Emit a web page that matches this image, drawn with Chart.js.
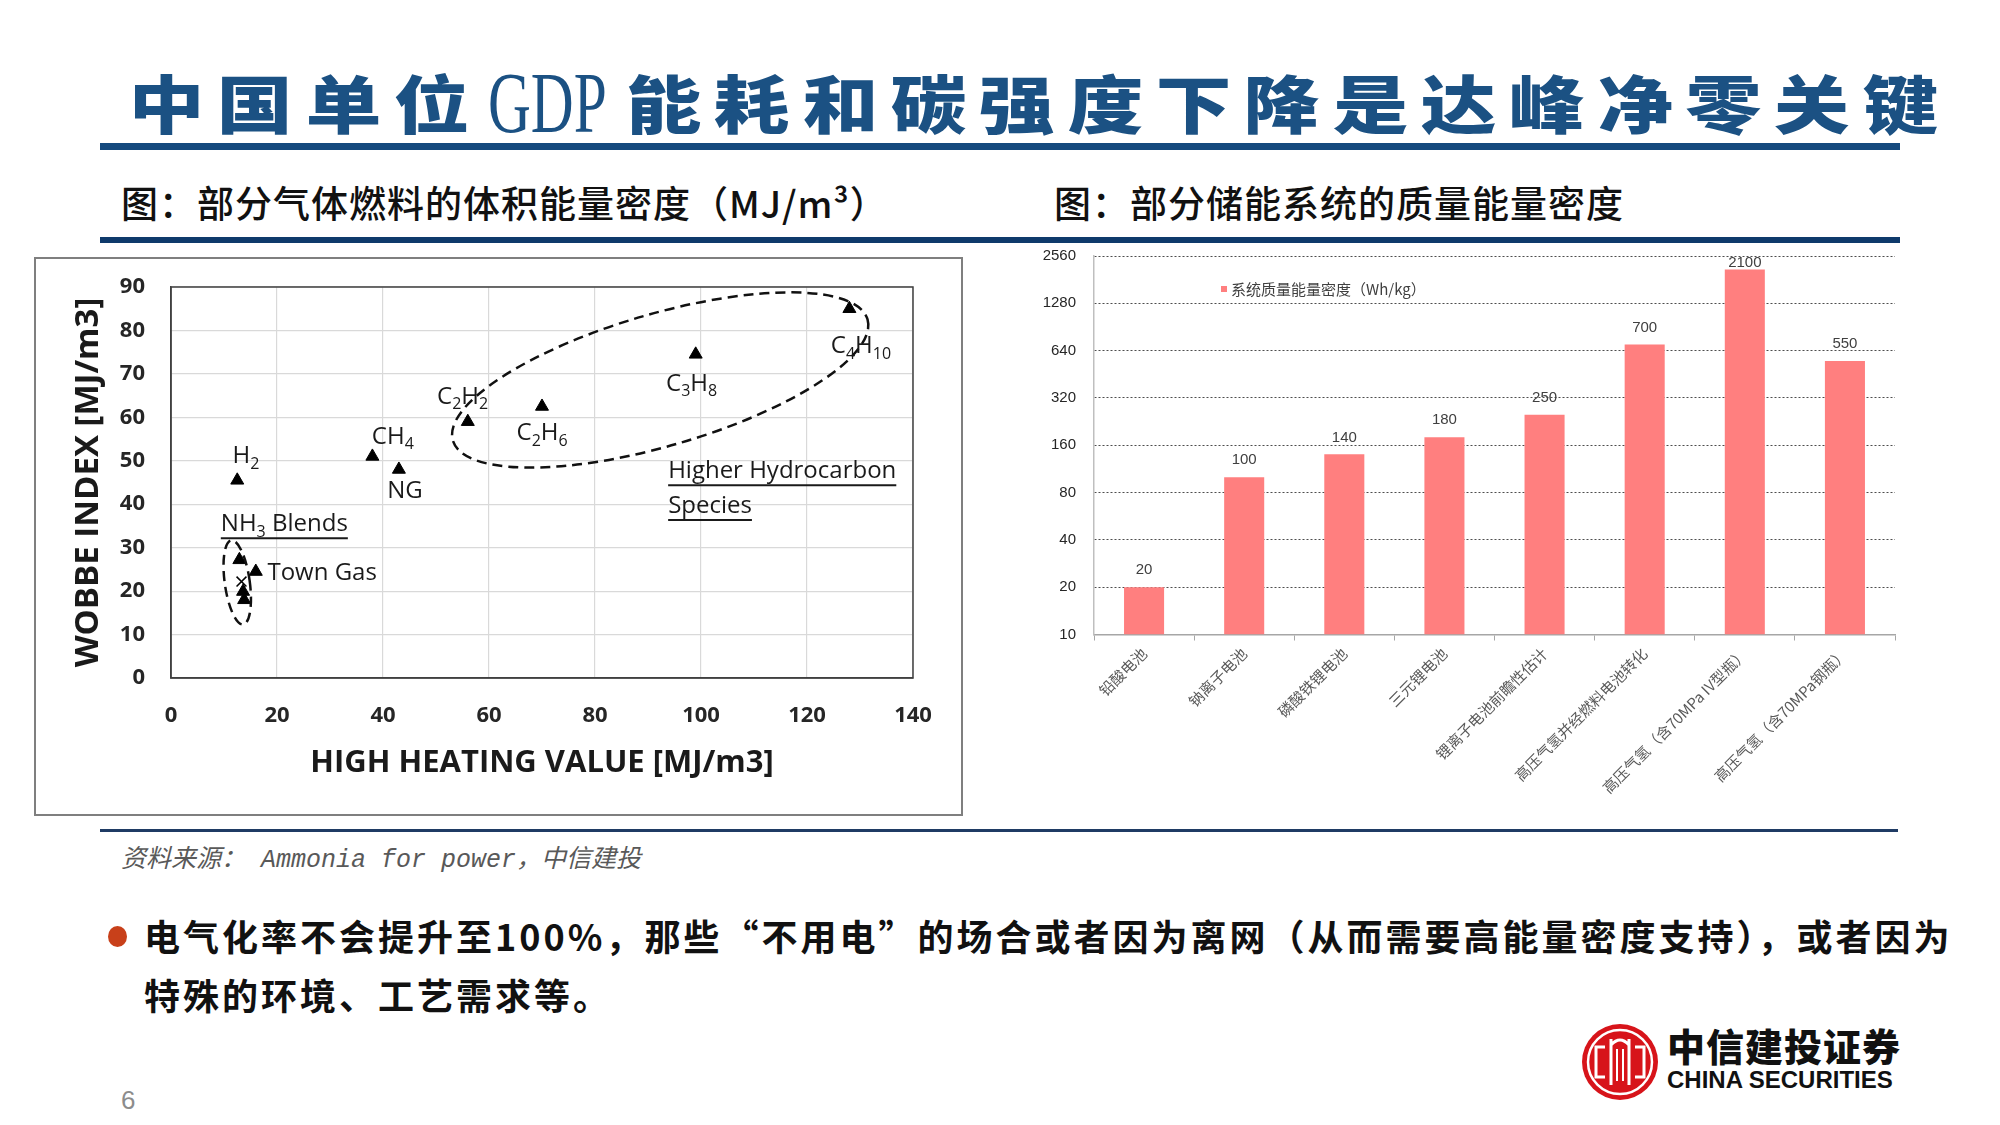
<!DOCTYPE html>
<html lang="zh-CN">
<head>
<meta charset="utf-8">
<title>中国单位GDP能耗和碳强度下降是达峰净零关键</title>
<script src="https://cdn.jsdelivr.net/npm/chart.js@4.4.1/dist/chart.umd.min.js"></script>
<style>
  html, body { margin: 0; padding: 0; background: #fff; }
  body { width: 2000px; height: 1125px; position: relative; overflow: hidden; font-family: "Noto Sans CJK SC", sans-serif; }
  .abs { position: absolute; white-space: nowrap; }
  .rule { position: absolute; }
  .sub { font-size: 37px; line-height: 37px; letter-spacing: 1px; color: #111; font-weight: 500; }
  #title { left: 135px; top: 68px; width: 1797px; display: flex; justify-content: space-between; align-items: baseline;
           font-size: 63px; line-height: 63px; font-weight: 900; color: #1b5183; }
  #title > span { display: inline-block; transform: scaleX(1.2); }
  #title > span.gdp { transform: none; width: 118px; font-family: "Liberation Serif", serif; font-weight: 400; font-size: 86px; position: relative; top: 4px; }
  #title .gdp span { display: inline-block; transform: scaleX(0.69); transform-origin: left center; }
  #gasBox { left: 34px; top: 257px; width: 929px; height: 559px; border: 2px solid #7f7f7f; box-sizing: border-box; }
  canvas { position: absolute; }
</style>
</head>
<body>

<div id="title" class="abs"><span>中</span><span>国</span><span>单</span><span>位</span><span class="gdp"><span>GDP</span></span><span>能</span><span>耗</span><span>和</span><span>碳</span><span>强</span><span>度</span><span>下</span><span>降</span><span>是</span><span>达</span><span>峰</span><span>净</span><span>零</span><span>关</span><span>键</span></div>
<div class="rule" style="left:100px;top:143px;width:1800px;height:7px;background:#154a7e;"></div>

<div class="abs sub" style="left:121px;top:184px;">图：部分气体燃料的体积能量密度（MJ/m³）</div>
<div class="abs sub" style="left:1054px;top:184px;">图：部分储能系统的质量能量密度</div>
<div class="rule" style="left:100px;top:237px;width:1800px;height:6px;background:#0f3a6b;"></div>

<div id="gasBox" class="abs"></div>
<canvas id="gasChart" width="929" height="559" style="left:34px;top:257px;"></canvas>

<canvas id="storeChart" width="880" height="580" style="left:1040px;top:240px;"></canvas>
<div class="abs" style="left:1221px;top:286px;width:6px;height:6px;background:#ff7f7f;"></div>
<div class="abs" style="left:1231px;top:281px;font-size:15px;line-height:15px;color:#404040;">系统质量能量密度（Wh/kg）</div>

<div class="rule" style="left:100px;top:829px;width:1798px;height:3px;background:#1f3b64;"></div>
<div class="abs" style="left:121px;top:848px;font-size:25px;line-height:25px;color:#595959;font-style:italic;font-family:'Liberation Mono','Noto Sans CJK SC',monospace;">资料来源： Ammonia for power，中信建投</div>

<div class="abs" style="left:108px;top:926px;width:19px;height:21px;border-radius:50%;background:#c8401a;"></div>
<div class="abs" style="left:144px;top:906px;font-size:36px;line-height:59px;letter-spacing:3px;font-weight:700;color:#111;">电气化率不会提升至100%，那些“不用电”的场合或者因为离网（从而需要高能量密度支持），或者因为<br>特殊的环境、工艺需求等。</div>

<div class="abs" style="left:121px;top:1087px;font-size:26px;line-height:26px;color:#8c8c8c;font-family:'Liberation Sans',sans-serif;">6</div>

<svg class="abs" style="left:1581px;top:1023px;" width="78" height="78" viewBox="0 0 78 78">
  <circle cx="39" cy="39" r="38" fill="#d7141a"/>
  <circle cx="39" cy="39" r="32" fill="none" stroke="#fff" stroke-width="2.5"/>
  <path d="M30 16 V62 M48 16 V62 M30 22 Q39 12 48 22" fill="none" stroke="#fff" stroke-width="3"/>
  <path d="M24 24 H15 V54 H24 M54 24 H63 V54 H54" fill="none" stroke="#fff" stroke-width="3"/>
  <path d="M36 26 V58 M42 26 V58" fill="none" stroke="#fff" stroke-width="2"/>
</svg>
<div class="abs" style="left:1667px;top:1026px;font-size:38px;line-height:38px;font-weight:900;letter-spacing:1px;color:#111;">中信建投证券</div>
<div class="abs" style="left:1667px;top:1068px;font-size:24px;line-height:24px;font-weight:700;color:#111;font-family:'Liberation Sans',sans-serif;">CHINA SECURITIES</div>

<script>
// ---------- left: 部分气体燃料的体积能量密度 ----------
const fuelNames = ['H2', 'CH4', 'NG', 'C2H2', 'C2H6', 'C3H8', 'C4H10', 'Town Gas', 'NH3 Blend', 'NH3 Blend', 'NH3 Blend'];
const fuelHHV   = [12.5, 38, 43, 56, 70, 99, 128, 16, 12.9, 13.6, 13.8];
const fuelWobbe = [45.5, 51, 48, 59, 62.5, 74.5, 85, 24.5, 27.2, 19.9, 18];
// the single "x" marker inside the NH3 blend group
const blendHHV   = [13.3];
const blendWobbe = [22.2];
const hhvTicks   = [0, 20, 40, 60, 80, 100, 120, 140];
const wobbeTicks = [0, 10, 20, 30, 40, 50, 60, 70, 80, 90];

// text notes on the plot, anchored in data units (left edge, middle)
const notes = [
    { text: 'H2', x: 11.6, y: 51 },
    { text: 'CH4', x: 37.9, y: 55.5 },
    { text: 'NG', x: 40.8, y: 42.9 },
    { text: 'C2H2', x: 50.2, y: 64.7 },
    { text: 'C2H6', x: 65.2, y: 56.4 },
    { text: 'C3H8', x: 93.4, y: 67.7 },
    { text: 'C4H10', x: 124.5, y: 76.4 },
    { text: 'Town Gas', x: 18.2, y: 24.2 },
    { text: 'NH3 Blends', x: 9.4, y: 35.4, underline: true },
    { text: 'Higher Hydrocarbon', x: 93.8, y: 47.6, underline: true },
    { text: 'Species', x: 93.8, y: 39.6, underline: true }
];
// dashed group outlines: centre in data units, radii in px
const groups = [
    { x: 92.3, y: 68.6, rx: 216, ry: 66, rot: -0.284 },
    { x: 12.5, y: 22, rx: 12.5, ry: 42.5, rot: -0.14 }
];

function drawChem(ctx, text, x, y, underline) {
    let cx = x;
    for (const ch of text) {
        const isSub = /[0-9]/.test(ch);
        ctx.font = isSub ? '16px "Open Sans"' : '24px "Open Sans"';
        ctx.fillText(ch, cx, isSub ? y + 8 : y);
        cx += ctx.measureText(ch).width;
    }
    if (underline) {
        ctx.beginPath();
        ctx.lineWidth = 2;
        ctx.moveTo(x, y + 14);
        ctx.lineTo(cx, y + 14);
        ctx.stroke();
    }
}

const gasNotes = {
    id: 'gasNotes',
    afterDatasetsDraw(chart) {
        const { ctx, scales: { x, y } } = chart;
        ctx.save();
        ctx.strokeStyle = '#111';
        ctx.lineWidth = 2.5;
        ctx.setLineDash([10, 6]);
        groups.forEach(g => {
            ctx.beginPath();
            ctx.ellipse(x.getPixelForValue(g.x), y.getPixelForValue(g.y), g.rx, g.ry, g.rot, 0, Math.PI * 2);
            ctx.stroke();
        });
        ctx.setLineDash([]);
        ctx.fillStyle = '#1a1a1a';
        ctx.strokeStyle = '#1a1a1a';
        ctx.textBaseline = 'middle';
        ctx.textAlign = 'left';
        notes.forEach(n => drawChem(ctx, n.text, x.getPixelForValue(n.x), y.getPixelForValue(n.y), n.underline));
        ctx.restore();
    },
    afterDraw(chart) {
        // plot frame (top and right sides too)
        const { ctx, chartArea: a } = chart;
        ctx.save();
        ctx.strokeStyle = '#404040';
        ctx.lineWidth = 1.5;
        ctx.strokeRect(a.left, a.top, a.right - a.left, a.bottom - a.top);
        ctx.restore();
    }
};

const tickFont = { family: 'Open Sans', weight: 'bold', size: 22 };

new Chart(document.getElementById('gasChart'), {
    type: 'scatter',
    data: {
        datasets: [{
            label: 'fuels',
            data: fuelHHV.map((v, i) => ({ x: v, y: fuelWobbe[i] })),
            pointStyle: 'triangle',
            radius: 7.5,
            backgroundColor: '#000',
            borderColor: '#000',
            borderWidth: 1
        }, {
            label: 'blend',
            data: blendHHV.map((v, i) => ({ x: v, y: blendWobbe[i] })),
            pointStyle: 'crossRot',
            radius: 7,
            borderColor: '#000',
            borderWidth: 1.5
        }]
    },
    options: {
        responsive: false,
        animation: false,
        devicePixelRatio: 1,
        layout: { padding: { left: 0, top: 30, right: 50, bottom: 0 } },
        plugins: { legend: { display: false }, tooltip: { enabled: false } },
        scales: {
            x: {
                type: 'linear',
                min: hhvTicks[0],
                max: hhvTicks[hhvTicks.length - 1],
                ticks: { stepSize: hhvTicks[1] - hhvTicks[0], padding: 25, color: '#262626', font: tickFont },
                grid: { color: '#d9d9d9', lineWidth: 1.2, drawTicks: false },
                border: { color: '#404040', width: 1.5 },
                title: { display: true, text: 'HIGH HEATING VALUE [MJ/m3]', color: '#1a1a1a', font: { family: 'Open Sans', weight: 'bold', size: 31 }, padding: { top: 0, bottom: 34 } },
                afterFit(s) { s.height = 138; s.paddingLeft = 0; s.paddingRight = 0; }
            },
            y: {
                type: 'linear',
                min: wobbeTicks[0],
                max: wobbeTicks[wobbeTicks.length - 1],
                ticks: { stepSize: wobbeTicks[1] - wobbeTicks[0], padding: 26, color: '#262626', font: tickFont },
                grid: { color: '#d9d9d9', lineWidth: 1.2, drawTicks: false },
                border: { color: '#404040', width: 1.5 },
                title: { display: true, text: 'WOBBE INDEX [MJ/m3]', color: '#1a1a1a', font: { family: 'Open Sans', weight: 'bold', size: 33 }, padding: { top: 35, bottom: 0 } },
                afterFit(s) { s.width = 137; s.paddingTop = 0; s.paddingBottom = 0; }
            }
        }
    },
    plugins: [gasNotes]
});

// ---------- right: 部分储能系统的质量能量密度 ----------
const storageTypes = ['铅酸电池', '钠离子电池', '磷酸铁锂电池', '三元锂电池', '锂离子电池前瞻性估计',
    '高压气氢并经燃料电池转化', '高压气氢（含70MPa IV型瓶）', '高压气氢（含70MPa钢瓶）'];
const storageDensity = [20, 100, 140, 180, 250, 700, 2100, 550];
const densityTicks = [10, 20, 40, 80, 160, 320, 640, 1280, 2560];

const barValueLabels = {
    id: 'barValueLabels',
    afterDatasetsDraw(chart) {
        const { ctx, chartArea } = chart;
        const meta = chart.getDatasetMeta(0);
        ctx.save();
        ctx.font = '15px "Liberation Sans", Arial, sans-serif';
        ctx.fillStyle = '#404040';
        ctx.textAlign = 'center';
        ctx.textBaseline = 'middle';
        meta.data.forEach((bar, i) => {
            const y = Math.max(bar.y - 17, chartArea.top + 7);
            ctx.fillText(String(storageDensity[i]), bar.x, y);
        });
        ctx.restore();
    }
};

new Chart(document.getElementById('storeChart'), {
    type: 'bar',
    data: {
        labels: storageTypes,
        datasets: [{
            label: '系统质量能量密度（Wh/kg）',
            data: storageDensity,
            backgroundColor: '#ff7f7f',
            barPercentage: 0.8,
            categoryPercentage: 0.5
        }]
    },
    options: {
        responsive: false,
        animation: false,
        devicePixelRatio: 1,
        layout: { padding: { left: 0, top: 16, right: 25, bottom: 0 } },
        plugins: { legend: { display: false }, tooltip: { enabled: false } },
        scales: {
            x: {
                grid: { offset: true, drawOnChartArea: false, tickLength: 6, color: '#a6a6a6' },
                border: { color: '#a6a6a6', width: 1.5 },
                ticks: { minRotation: 45, maxRotation: 45, autoSkip: false, padding: 4, color: '#595959', font: { family: 'Noto Sans CJK SC', size: 15 } },
                afterFit(s) { s.height = 185.5; s.paddingLeft = 0; s.paddingRight = 0; }
            },
            y: {
                type: 'logarithmic',
                min: densityTicks[0],
                max: densityTicks[densityTicks.length - 1],
                afterBuildTicks(s) { s.ticks = densityTicks.map(v => ({ value: v })); },
                ticks: { callback: v => String(v), padding: 18, color: '#262626', font: { family: 'Liberation Sans', size: 15 } },
                grid: { color: c => (c.tick && c.tick.value === densityTicks[0]) ? 'rgba(0,0,0,0)' : '#4d4d4d', lineWidth: 1, drawTicks: false },
                border: { color: '#bfbfbf', width: 1.5, dash: [2, 2] },
                afterFit(s) { s.width = 54; s.paddingTop = 0; s.paddingBottom = 0; }
            }
        }
    },
    plugins: [barValueLabels]
});
</script>
</body>
</html>
